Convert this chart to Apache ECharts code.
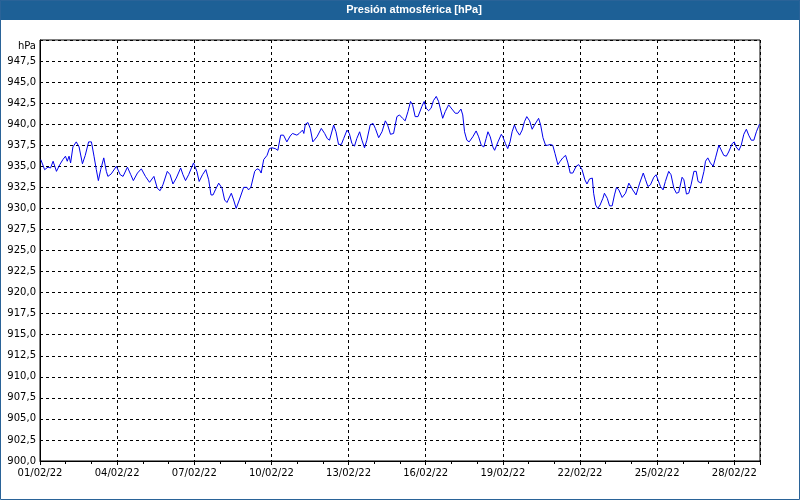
<!DOCTYPE html>
<html>
<head>
<meta charset="utf-8">
<script src="https://cdn.jsdelivr.net/npm/echarts@6/dist/echarts.min.js"></script>
<style>
html,body{margin:0;padding:0;background:#fff;}
#c{width:800px;height:500px;}
</style>
</head>
<body>
<div id="c"></div>
<script>
// Days since 01/02/22 00:00
const dayOffsets = [
0.03,0.18,0.31,0.41,0.51,0.64,0.77,0.89,0.99,1.06,1.13,1.19,1.28,1.41,1.52,1.65,1.76,1.89,2.0,2.10,
2.19,2.27,2.36,2.48,2.58,2.64,2.77,2.97,3.12,3.23,3.40,3.53,3.63,3.79,3.94,4.10,4.26,4.43,4.56,4.67,
4.78,4.95,5.06,5.17,5.30,5.47,5.56,5.66,
5.78,5.97,6.01,6.10,6.19,6.32,6.45,6.56,6.65,6.73,6.82,6.95,7.08,7.18,7.27,7.44,7.53,7.63,7.75,7.92,
8.05,8.11,8.20,8.35,8.44,8.53,8.60,8.70,8.83,8.92,9.02,9.15,9.25,9.36,9.47,9.60,9.73,9.82,9.99,10.08,
10.21,10.26,10.32,10.42,10.51,10.61,10.77,10.94,11.07,11.17,11.26,
11.42,11.51,11.61,11.72,11.81,11.94,12.03,12.13,12.23,12.32,12.43,12.52,12.62,12.71,12.84,12.95,13.04,
13.17,13.30,13.43,13.52,13.63,13.75,13.88,13.98,14.10,14.20,14.31,14.41,14.49,14.59,14.70,14.85,14.94,
15.02,15.11,15.21,15.30,15.41,15.50,15.66,15.76,15.89,16.02,16.15,16.25,16.37,16.44,16.51,16.60,16.69,
16.83,16.96,17.06,17.16,17.26,17.35,17.42,17.51,17.61,17.68,17.81,17.94,18.0,18.10,18.19,18.28,18.36,
18.45,18.54,18.65,18.75,18.84,18.93,19.04,19.14,19.23,19.39,19.47,19.56,19.66,19.75,19.84,19.94,20.03,
20.14,20.23,20.33,20.44,20.53,20.62,20.72,20.85,20.95,21.08,21.19,21.27,21.37,21.48,21.53,21.61,21.69,
21.78,21.89,21.95,22.06,22.15,22.25,22.34,
22.42,22.51,22.64,22.77,22.90,22.96,23.05,23.18,23.32,23.46,23.55,23.64,23.74,23.87,23.96,24.03,24.13,
24.23,24.32,24.45,24.54,24.65,24.75,24.84,24.97,25.04,25.14,25.23,25.32,25.43,25.52,25.59,25.71,25.82,
25.88,25.97,26.07,26.18,26.27,26.40,26.46,26.59,26.69,26.78,26.92,27.0,27.07,27.18,27.27,27.37,27.47,
27.56,27.66,27.76,27.86,27.94,27.98
];
// Pressure [hPa]
const pressure = [
935.8,934.6,934.9,934.8,935.6,934.4,935.2,935.8,936.2,935.6,936.2,935.4,937.3,937.9,937.3,935.3,936.3,937.9,937.9,936.2,
934.6,933.3,934.6,936.0,934.4,933.8,934.1,935.0,934.0,933.8,934.9,934.0,933.3,934.2,934.7,933.8,933.1,933.8,932.4,932.1,
932.8,934.4,934.0,932.9,933.6,934.8,934.0,933.3,
934.0,935.4,935.1,934.4,933.2,934.0,934.6,933.4,931.6,931.6,932.2,933.0,932.4,931.0,930.7,931.8,931.0,930.0,931.0,932.5,
932.5,932.2,932.5,934.4,934.7,934.6,934.2,935.8,936.3,937.1,937.2,937.1,936.9,938.7,938.7,937.9,938.6,938.9,938.7,938.9,
939.3,938.9,940.0,940.2,939.5,937.9,938.5,939.5,938.9,938.3,938.1,
939.9,939.1,937.6,937.6,938.3,939.3,938.9,937.7,937.4,938.3,939.1,938.1,937.2,938.1,939.9,940.1,939.5,
938.4,939.1,940.4,939.9,938.8,938.9,940.9,941.1,940.7,940.4,941.5,942.7,942.3,940.9,940.9,942.1,942.7,
941.9,941.6,941.9,942.8,943.3,942.7,940.7,941.5,942.3,941.8,941.3,941.3,941.8,941.1,939.1,938.1,937.9,
938.5,939.2,938.5,937.5,937.3,938.3,939.1,938.5,937.3,936.9,937.9,938.8,938.5,937.7,937.1,937.9,939.1,
939.9,939.2,938.7,939.3,940.3,940.9,940.4,939.4,939.9,940.7,939.9,938.4,937.5,937.5,937.6,937.5,936.5,
935.2,935.6,936.0,936.3,935.4,934.2,934.2,935.0,935.2,934.6,933.4,932.9,933.5,933.6,931.8,930.4,930.0,
930.4,931.2,931.8,931.2,930.3,930.3,931.6,
932.5,932.2,931.3,931.8,933.0,932.9,932.2,931.6,933.0,934.2,933.4,932.6,932.8,933.7,934.0,933.4,932.6,
932.2,933.2,934.4,934.0,932.4,931.8,931.9,933.7,933.4,931.7,931.8,932.8,934.4,934.4,933.2,933.0,934.4,
935.6,936.0,935.4,935.0,936.0,937.5,937.3,936.3,936.2,936.7,937.7,937.9,937.3,936.9,937.5,938.8,939.4,
938.7,938.1,938.1,939.1,939.7,940.0
];
const startDate = [2022, 1, 1]; // 01/02/22
const titleText = 'Presión atmosférica [hPa]';
const unitLabel = 'hPa';

function dayLabel(d) {
  const dt = new Date(Date.UTC(startDate[0], startDate[1], startDate[2]) + d * 86400000);
  const dd = String(dt.getUTCDate()).padStart(2, '0');
  const mm = String(dt.getUTCMonth() + 1).padStart(2, '0');
  const yy = String(dt.getUTCFullYear()).slice(2);
  return dd + '/' + mm + '/' + yy;
}

const chart = echarts.init(document.getElementById('c'), null, {renderer: 'canvas'});
const font = 'DejaVu Sans';
chart.setOption({
  animation: false,
  backgroundColor: '#ffffff',
  grid: {left: 40, right: 40, top: 40, bottom: 39, show: true, borderColor: '#000', borderWidth: 1, backgroundColor: '#fff'},
  graphic: [
    {type: 'rect', shape: {x: 0, y: 0, width: 800, height: 20}, style: {fill: '#1d6096'}, z: 10},
    {type: 'rect', shape: {x: 0.5, y: 0.5, width: 799, height: 499}, style: {fill: null, stroke: '#2a6398', lineWidth: 1}, z: 10},
    {type: 'text', x: 414, y: 10, style: {text: titleText, fill: '#fff', font: 'bold 11px "Liberation Sans"', textAlign: 'center', textVerticalAlign: 'middle'}, z: 11},
    {type: 'text', x: 36, y: 46, style: {text: unitLabel, fill: '#000', font: '10px "DejaVu Sans"', textAlign: 'right', textVerticalAlign: 'middle'}, z: 11}
  ],
  xAxis: {
    type: 'value', min: 0, max: 28, interval: 3,
    axisLine: {show: true, lineStyle: {color: '#000', width: 1}},
    axisTick: {show: true, length: 4, lineStyle: {color: '#000'}},
    minorTick: {show: true, splitNumber: 3, length: 3, lineStyle: {color: '#000'}},
    splitLine: {show: true, lineStyle: {color: '#000', type: [3, 3], width: 1}},
    axisLabel: {color: '#000', fontFamily: font, fontSize: 10, margin: 7, formatter: function (v) { return v % 3 === 0 && v < 28 ? dayLabel(v) : ''; }}
  },
  yAxis: {
    type: 'value', min: 900, max: 950, interval: 2.5,
    axisLine: {show: true, lineStyle: {color: '#000', width: 1}},
    axisTick: {show: false},
    splitLine: {show: true, lineStyle: {color: '#000', type: [3, 3], width: 1}},
    axisLabel: {color: '#000', fontFamily: font, fontSize: 10, margin: 4, formatter: function (v) { return v >= 950 ? '' : v.toFixed(1).replace('.', ','); }}
  },
  series: [{
    type: 'line',
    data: dayOffsets.map((d, i) => [d, pressure[i]]),
    showSymbol: false,
    symbol: 'none',
    lineStyle: {color: '#0000ee', width: 1},
    itemStyle: {color: '#0000ee'}
  }]
});
</script>
</body>
</html>
